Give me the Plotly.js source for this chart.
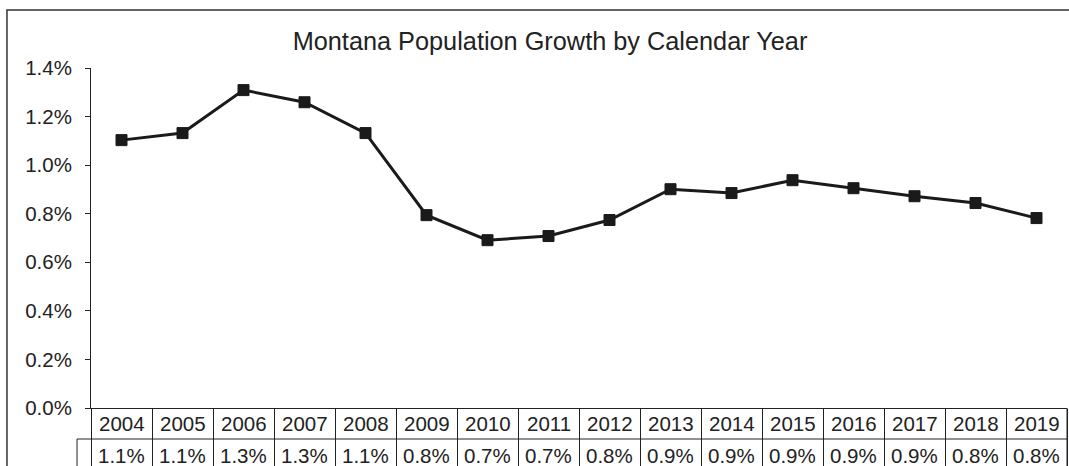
<!DOCTYPE html>
<html>
<head>
<meta charset="utf-8">
<script src="https://cdn.plot.ly/plotly-3.0.1.min.js"></script>
<style>
  html, body { margin: 0; padding: 0; background: #fff; }
  #chart { width: 1069px; height: 466px; }
</style>
</head>
<body>
<div id="chart"></div>
<script>
const titleText = 'Montana Population Growth by Calendar Year';
const years = ['2004','2005','2006','2007','2008','2009','2010','2011','2012','2013','2014','2015','2016','2017','2018','2019'];
const growth = [1.103, 1.132, 1.309, 1.259, 1.132, 0.794, 0.691, 0.708, 0.774, 0.901, 0.885, 0.938, 0.905, 0.872, 0.844, 0.782];
const tableLabels = ['1.1%','1.1%','1.3%','1.3%','1.1%','0.8%','0.7%','0.7%','0.8%','0.9%','0.9%','0.9%','0.9%','0.9%','0.8%','0.8%'];
const yTickVals = [0, 0.2, 0.4, 0.6, 0.8, 1.0, 1.2, 1.4];
const yTickText = ['0.0%', '0.2%', '0.4%', '0.6%', '0.8%', '1.0%', '1.2%', '1.4%'];

const ink = '#222222';
const fontFam = 'Liberation Sans, Arial, sans-serif';
const labelSize = 20.5;

const trace = {
  type: 'scatter',
  mode: 'lines+markers',
  x: years,
  y: growth,
  line: { color: '#1a1a1a', width: 3 },
  marker: { symbol: 'square', size: 11, color: '#1a1a1a', line: { color: '#1a1a1a', width: 1 } },
  cliponaxis: false,
  hoverinfo: 'x+y'
};

const annotations = [];
years.forEach((yr, i) => {
  annotations.push({
    xref: 'x', yref: 'paper', x: i, y: -0.047,
    text: yr, showarrow: false, xanchor: 'center', yanchor: 'middle',
    font: { family: fontFam, size: labelSize, color: ink }
  });
  annotations.push({
    xref: 'x', yref: 'paper', x: i, y: -0.14,
    text: tableLabels[i], showarrow: false, xanchor: 'center', yanchor: 'middle',
    font: { family: fontFam, size: labelSize, color: ink }
  });
});

const shapes = [
  // outer chart frame
  { type: 'rect', xref: 'paper', yref: 'paper', x0: -0.0861, x1: 1.05, y0: -0.4, y1: 1.1706,
    line: { color: '#333', width: 1.5 }, fillcolor: 'rgba(0,0,0,0)', layer: 'below' },
  // row separator of data table
  { type: 'line', xref: 'paper', yref: 'paper', x0: -0.0143, x1: 1, y0: -0.0912, y1: -0.0912,
    line: { color: ink, width: 1 } },
  // left border of legend-key cell
  { type: 'line', xref: 'paper', yref: 'paper', x0: -0.0143, x1: -0.0143, y0: -0.0912, y1: -0.4,
    line: { color: ink, width: 1 } },
  // right border of table
  { type: 'line', xref: 'x domain', yref: 'paper', x0: 1, x1: 1, y0: 0, y1: -0.4,
    line: { color: ink, width: 1 } }
];

const layout = {
  width: 1069,
  height: 466,
  margin: { l: 91, r: 2, t: 68, b: 58, pad: 0 },
  paper_bgcolor: '#ffffff',
  plot_bgcolor: '#ffffff',
  showlegend: false,
  font: { family: fontFam, color: ink },
  title: {
    text: titleText,
    xref: 'container', x: 0.5145, xanchor: 'center',
    yref: 'container', y: 1 - 41 / 466, yanchor: 'middle',
    font: { family: fontFam, size: 25.3, color: ink }
  },
  xaxis: {
    type: 'category',
    range: [-0.5, years.length - 0.5],
    showgrid: false,
    zeroline: false,
    showline: true,
    linecolor: ink,
    linewidth: 1,
    ticks: 'outside',
    tickson: 'boundaries',
    ticklen: 60,
    tickcolor: ink,
    tickwidth: 1,
    showticklabels: false,
    fixedrange: true
  },
  yaxis: {
    range: [0, 1.4],
    tickmode: 'array',
    tickvals: yTickVals,
    ticktext: yTickText,
    showgrid: false,
    zeroline: false,
    showline: true,
    linecolor: ink,
    linewidth: 1,
    ticks: 'outside',
    ticklen: 5,
    tickcolor: ink,
    tickwidth: 1,
    ticklabelstandoff: 9,
    tickfont: { family: fontFam, size: labelSize, color: ink },
    fixedrange: true
  },
  annotations: annotations,
  shapes: shapes
};

Plotly.newPlot('chart', [trace], layout, { displayModeBar: false, staticPlot: true });
</script>
</body>
</html>
